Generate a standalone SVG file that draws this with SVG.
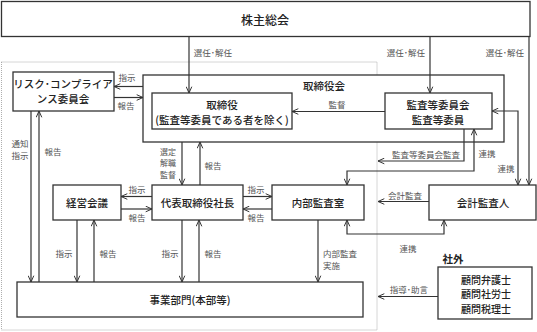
<svg xmlns="http://www.w3.org/2000/svg" width="537" height="332" viewBox="0 0 537 332">
<style>
text{font-family:"Noto Sans CJK JP","Noto Sans",sans-serif;dominant-baseline:central}
.box{fill:#fff;stroke:#333;stroke-width:1.3}
.bt{font-size:10.5px;fill:#222;text-anchor:middle;font-weight:500}
.lb{font-size:8.5px;fill:#555;text-anchor:middle}
.sl{font-size:8px;fill:#555;text-anchor:middle}
.ln{fill:none;stroke:#333;stroke-width:1.2;marker-end:url(#ah)}
.both{marker-start:url(#ah)}
</style>
<defs>
<marker id="ah" viewBox="0 0 10 10" refX="10" refY="5" markerWidth="7" markerHeight="7" markerUnits="userSpaceOnUse" orient="auto-start-reverse">
<path d="M1,1 L10,5 L1,9" fill="none" stroke="#333" stroke-width="1.4"/>
</marker>
</defs>
<rect x="1.5" y="62" width="375.5" height="268" fill="none" stroke="#999" stroke-width="0.8" stroke-dasharray="1,1"/>
<g id="kabunushi"><rect class="box" x="1.5" y="1.5" width="528.5" height="35"/><text class="bt" x="265" y="19" style="font-size:12px">株主総会</text></g>
<g id="torishimariyakukai"><rect class="box" x="143" y="75" width="361" height="67"/><text x="303" y="85" style="font-size:10.5px;fill:#222;font-weight:500">取締役会</text></g>
<g id="risk"><rect class="box" x="13" y="72" width="101" height="39"/><text class="bt" x="63" y="83.5">リスク･コンプライア</text><text class="bt" x="63" y="98.5">ンス委員会</text></g>
<g id="torishimariyaku"><rect class="box" x="152" y="93" width="140" height="36"/><text class="bt" x="222" y="104">取締役</text><text class="bt" x="222" y="119">(監査等委員である者を除く)</text></g>
<g id="kansa_iinkai"><rect class="box" x="385" y="93" width="107" height="36"/><text class="bt" x="438" y="104">監査等委員会</text><text class="bt" x="438" y="119.5">監査等委員</text></g>
<g id="keiei"><rect class="box" x="53" y="185" width="68" height="35"/><text class="bt" x="87" y="202.5">経営会議</text></g>
<g id="daihyo"><rect class="box" x="152" y="185" width="91" height="35"/><text class="bt" x="197.5" y="202.5">代表取締役社長</text></g>
<g id="naibu"><rect class="box" x="272" y="185" width="92" height="35"/><text class="bt" x="318" y="202.5">内部監査室</text></g>
<g id="kaikei"><rect class="box" x="429" y="185" width="107" height="35"/><text class="bt" x="483" y="202.5">会計監査人</text></g>
<g id="jigyo"><rect class="box" x="17" y="282" width="346" height="35"/><text class="bt" x="190" y="299.5">事業部門(本部等)</text></g>
<g id="shagai"><text x="453" y="258" style="font-size:10.5px;fill:#222;font-weight:bold;text-anchor:middle">社外</text><rect class="box" x="438" y="267" width="94" height="52"/><text class="bt" x="486" y="279" style="font-size:10px">顧問弁護士</text><text class="bt" x="486" y="293.5" style="font-size:10px">顧問社労士</text><text class="bt" x="486" y="308" style="font-size:10px">顧問税理士</text></g>
<g id="connectors">
<path class="ln" d="M189,37 V93"/>
<path class="ln" d="M430,37 V93"/>
<path class="ln" d="M529,37 V185"/>
<path class="ln" d="M143,86.5 H114"/>
<path class="ln" d="M114,97.5 H143"/>
<path class="ln" d="M385,111.5 H292"/>
<path class="ln both" d="M492,111 H518 V185"/>
<path class="ln" d="M464,129 V161 H378"/>
<path class="ln both" d="M474,129 V171 H347 V185"/>
<path class="ln" d="M182,142 V185"/>
<path class="ln" d="M200,185 V142"/>
<path class="ln" d="M152,196.5 H121"/>
<path class="ln" d="M121,209 H152"/>
<path class="ln" d="M243,196.5 H272"/>
<path class="ln" d="M272,209 H243"/>
<path class="ln" d="M429,201.5 H378"/>
<path class="ln both" d="M444,220 V234 H347 V220"/>
<path class="ln" d="M318,220 V282"/>
<path class="ln" d="M438,296.5 H378"/>
<path class="ln" d="M31,111 V282"/>
<path class="ln" d="M39,282 V111"/>
<path class="ln" d="M77,220 V282"/>
<path class="ln" d="M94,282 V220"/>
<path class="ln" d="M182,220 V282"/>
<path class="ln" d="M199,282 V220"/>
</g>
<g id="labels">
<text class="lb" x="213" y="52">選任･解任</text>
<text class="lb" x="406" y="52">選任･解任</text>
<text class="lb" x="505" y="52">選任･解任</text>
<text class="lb" x="127" y="77">指示</text>
<text class="lb" x="126" y="104.5">報告</text>
<text class="lb" x="337" y="103.5">監督</text>
<text class="lb" x="20" y="142.5">通知</text>
<text class="lb" x="20" y="155">指示</text>
<text class="lb" x="53" y="151">報告</text>
<text class="sl" x="168" y="151">選定</text>
<text class="sl" x="168" y="162.7">解職</text>
<text class="sl" x="168" y="174.4">監督</text>
<text class="lb" x="213" y="165">報告</text>
<text class="lb" x="137" y="189">指示</text>
<text class="lb" x="137" y="217">報告</text>
<text class="lb" x="256" y="189">指示</text>
<text class="lb" x="256" y="217">報告</text>
<text class="lb" x="426" y="153.5">監査等委員会監査</text>
<text class="lb" x="487" y="153">連携</text>
<text class="lb" x="506" y="168">連携</text>
<text class="lb" x="405" y="194.5">会計監査</text>
<text class="lb" x="64" y="253">指示</text>
<text class="lb" x="108" y="253">報告</text>
<text class="lb" x="170" y="253">指示</text>
<text class="lb" x="213" y="253">報告</text>
<text x="323" y="252.5" style="font-size:8.5px;fill:#555">内部監査</text>
<text x="323" y="265" style="font-size:8.5px;fill:#555">実施</text>
<text class="lb" x="408" y="248">連携</text>
<text class="lb" x="409" y="289">指導･助言</text>
</g>
</svg>
